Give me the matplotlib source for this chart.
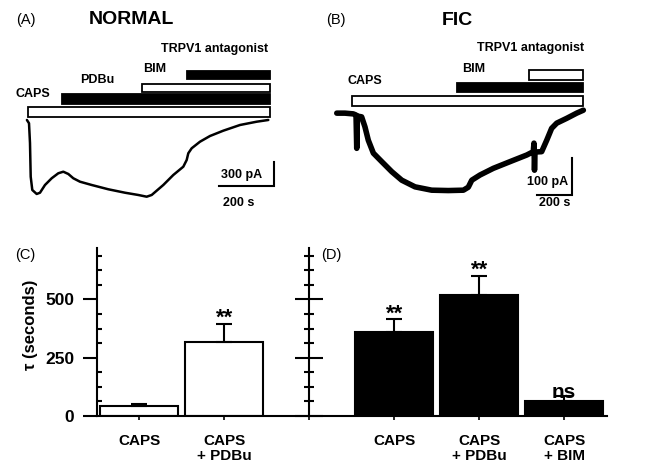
import matplotlib
matplotlib.use("Agg")
import matplotlib.pyplot as plt
from matplotlib.patches import Rectangle
from matplotlib.ticker import MultipleLocator

plt.rcParams['font.family'] = ['Liberation Sans', 'DejaVu Sans']

W, H = 668, 473

# (A) normal: capsaicin evoked current, time in s, current in pA
time_a = [-4, 3.7, 7.3, 9.9, 15.7, 31.8, 43.9, 62.2, 86.7, 110.9, 129.2, 147.5,
          165.8, 190.3, 233.1, 293.9, 355, 403.7, 434.4, 452.7, 495.2, 531.8,
          568.4, 580.8, 586.7, 599.1, 629.5, 666.1, 714.8, 776, 837, 879.5]
curr_a = [13, -29, -282, -713, -883, -934, -918, -819, -733, -669, -649, -678,
          -733, -777, -819, -874, -918, -947, -969, -947, -819, -691, -585,
          -499, -413, -349, -265, -192, -124, -51, -9, 13]
drugs_a = ["CAPS", "PDBu", "BIM", "TRPV1 antagonist"]
on_a = [0, 124, 417, 582]
off_a = [886, 886, 886, 886]
filled_a = [False, True, False, True]

# (B) FIC
time_b = [-87, -40, 7, 23, 27, 31, 55, 74, 93, 122, 170, 227, 284, 360, 455,
          550, 636, 664, 684, 731, 807, 902, 998, 1035, 1039, 1042, 1045, 1083,
          1112, 1140, 1169, 1226, 1283, 1321]
curr_b = [5, 5, 3, 0, -90, -3, -5, -32, -68, -103, -126, -153, -176, -194, -203,
          -204, -203, -195, -176, -162, -144, -126, -108, -99, -76, -149, -100,
          -99, -68, -36, -22, -9, 5, 13]
drugs_b = ["CAPS", "BIM", "TRPV1 antagonist"]
on_b = [0, 600, 1011]
off_b = [1319, 1319, 1319]
filled_b = [False, True, False]

# (C) normal / (D) FIC, decay time constant
cond_c = ["CAPS", "CAPS\n+ PDBu"]
tau_c = [44, 318]
err_c = [8, 76]
sig_c = ["", "**"]

cond_d = ["CAPS", "CAPS\n+ PDBu", "CAPS\n+ BIM"]
tau_d = [361, 518, 66]
err_d = [53, 82, 20]
sig_d = ["**", "**", "ns"]

fig = plt.figure(figsize=(W / 100, H / 100), dpi=100)


def px_axes(left, top, right, bottom):
    return fig.add_axes([left / W, 1 - bottom / H, (right - left) / W, (bottom - top) / H])


def fig_text(x, y, s, **kw):
    fig.text(x / W, 1 - y / H, s, **kw)


def trace_panel(box, x0, s_px, y0, pa_px, t, cur, lw):
    left, top, right, bottom = box
    ax = px_axes(*box)
    ax.set_xlim((left - x0) * s_px, (right - x0) * s_px)
    ax.set_ylim((y0 - bottom) * pa_px, (y0 - top) * pa_px)
    ax.axis('off')
    ax.plot(t, cur, color='black', lw=lw, solid_joinstyle='round', solid_capstyle='round')
    return ax


def drug_bars(ax, box, names, on, off, filled, rows, labels):
    left, top, right, bottom = box
    h = bottom - top
    tr = ax.get_xaxis_transform()
    for name, t0, t1, f, (y1, y2), (lx, ly) in zip(names, on, off, filled, rows, labels):
        ax.add_patch(Rectangle((t0, (bottom - y2) / h), t1 - t0, (y2 - y1) / h,
                               transform=tr, facecolor='black' if f else 'white',
                               edgecolor='black', lw=1.3, clip_on=False))
        fig_text(lx, ly, name, fontsize=9, fontweight='bold', ha='left', va='center')


def scale_bar(ax, corner, dt, di, lab_t, lab_i):
    t, i = corner
    ax.plot([t - dt, t, t], [i, i, i + di], color='black', lw=1.5, solid_joinstyle='miter')
    ax.text(lab_t[0], lab_t[1], lab_t[2], fontsize=9, fontweight='bold', ha='center', va='center')
    ax.text(lab_i[0], lab_i[1], lab_i[2], fontsize=9, fontweight='bold', ha='center', va='center')


# ---- panel A
box_a = (0, 0, 334, 225)
ax_a = trace_panel(box_a, 28, 3.66, 121, 12.8, time_a, curr_a, 1.8)
drug_bars(ax_a, box_a, drugs_a, on_a, off_a, filled_a,
          [(107.3, 116.7), (94.3, 104), (84, 92), (70.7, 79.3)],
          [(16, 94), (80, 80), (143, 68.5), (161, 49)])
scale_bar(ax_a, (900, -830), 200, 300, (770, -1050, "200 s"), (783, -686, "300 pA"))
fig_text(16, 20, "(A)", fontsize=10.5, ha='left', va='center')
fig_text(131.5, 20, "NORMAL", fontsize=14, fontweight='bold', ha='center', va='center')

# ---- panel B
box_b = (334, 0, 668, 225)
ax_b = trace_panel(box_b, 352, 5.71, 115, 2.7, time_b, curr_b, 4.0)
drug_bars(ax_b, box_b, drugs_b, on_b, off_b, filled_b,
          [(96, 106), (83, 92), (70, 80)],
          [(348, 81), (462, 69.5), (477, 48)])
scale_bar(ax_b, (1256, -215), 200, 100, (1159, -238, "200 s"), (1119, -181, "100 pA"))
fig_text(326, 20, "(B)", fontsize=10.5, ha='left', va='center')
fig_text(457.5, 20.5, "FIC", fontsize=14, fontweight='bold', ha='center', va='center')

# ---- panels C and D
ax = px_axes(96.7, 248, 606.7, 416)
x_c = [0, 1]
x_d = [3, 4, 5]
err_kw = dict(ecolor='black', elinewidth=1.5, capsize=6, capthick=1.5)
ax.bar(x_c, tau_c, width=0.92, color='white', edgecolor='black', lw=1.5,
       yerr=[[0] * len(err_c), err_c], error_kw=err_kw)
ax.bar(x_d, tau_d, width=0.92, color='black', edgecolor='black', lw=1.5,
       yerr=[[0] * len(err_d), err_d], error_kw=err_kw)
for xs, vals, errs, sigs in [(x_c, tau_c, err_c, sig_c), (x_d, tau_d, err_d, sig_d)]:
    for x, v, e, s in zip(xs, vals, errs, sigs):
        if s == "ns":
            ax.annotate(s, (x, v + e), xytext=(0, -1.5), textcoords='offset points',
                        ha='center', va='baseline', fontsize=15, fontweight='bold')
        elif s:
            ax.annotate(s, (x, v + e), xytext=(0, 0), textcoords='offset points',
                        ha='center', va='baseline', fontsize=16, fontweight='bold')

ax.set_xlim(-0.5, 5.5)
ax.set_ylim(0, 720)
for sp in ['top', 'right']:
    ax.spines[sp].set_visible(False)
for sp in ['left', 'bottom']:
    ax.spines[sp].set_linewidth(1.5)
ax.set_yticks([0, 250, 500])
ax.yaxis.set_minor_locator(MultipleLocator(62.5))
ax.tick_params(axis='y', which='major', direction='out', length=10, width=1.5,
               labelsize=12.5, pad=6)
ax.tick_params(axis='y', which='minor', direction='in', length=3.5, width=1.5)
ax.set_xticks(x_c + [2] + x_d, labels=cond_c + [""] + cond_d)
ax.tick_params(axis='x', length=3, width=1.2, pad=10, labelsize=11)
for lab in ax.get_yticklabels() + ax.get_xticklabels():
    lab.set_fontweight('bold')
for lab in ax.get_xticklabels():
    lab.set_linespacing(1.05)

sec = ax.secondary_yaxis(2.5 / 6)
sec.set_yticks([0, 250, 500])
sec.yaxis.set_minor_locator(MultipleLocator(62.5))
sec.tick_params(which='major', direction='inout', length=20, width=1.5,
                labelleft=False, labelright=False)
sec.tick_params(which='minor', direction='inout', length=7, width=1.5)
for sp in sec.spines.values():
    sp.set_linewidth(1.5)

fig_text(31, 325, "τ (seconds)", fontsize=12, fontweight='bold', rotation=90,
         ha='center', va='center')
fig_text(15, 255, "(C)", fontsize=10.5, ha='left', va='center')
fig_text(321, 255, "(D)", fontsize=10.5, ha='left', va='center')

fig.savefig("out.png", dpi=100)
